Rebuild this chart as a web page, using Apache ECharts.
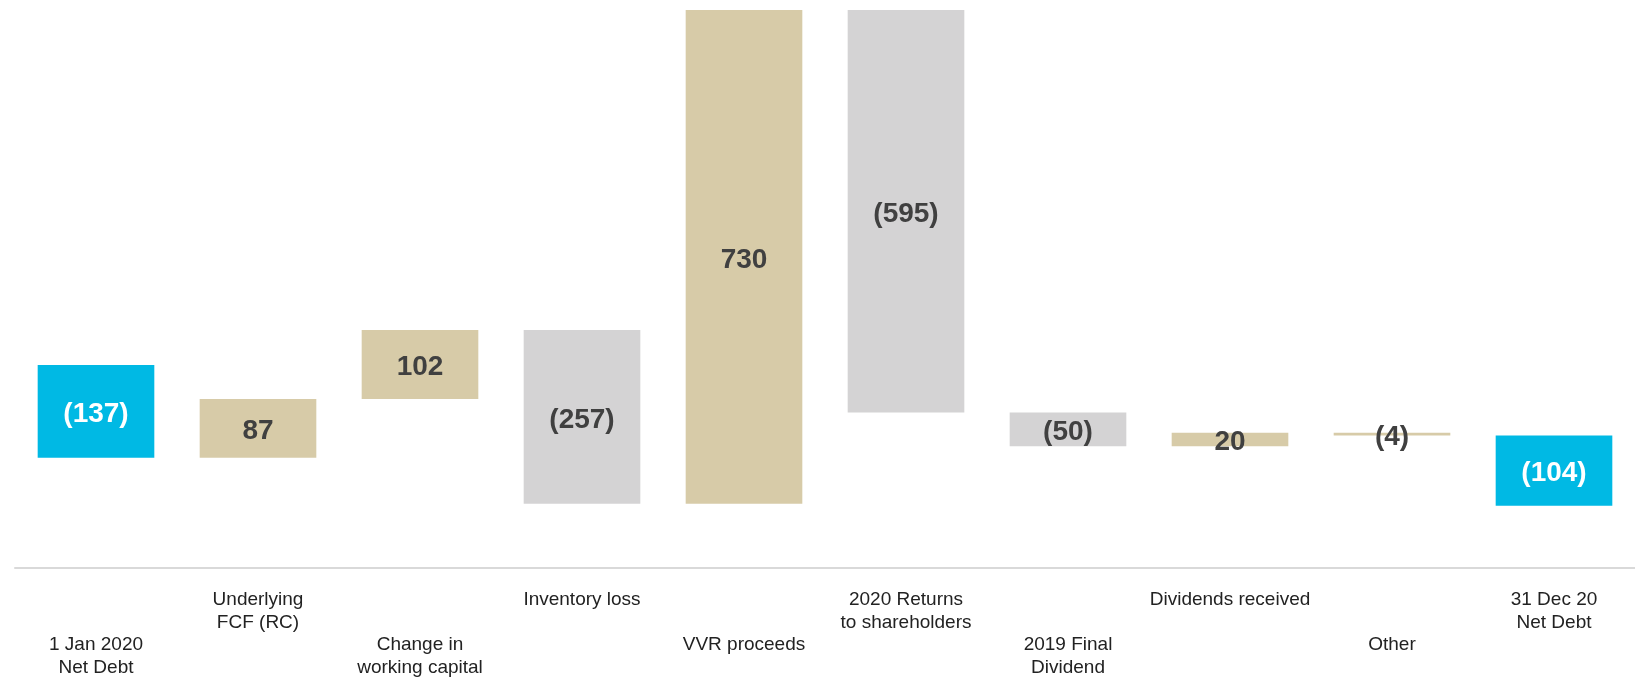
<!DOCTYPE html>
<html>
<head>
<meta charset="utf-8">
<script src="https://cdn.jsdelivr.net/npm/echarts@6/dist/echarts.min.js"></script>
<style>
  html, body { margin: 0; padding: 0; background: #ffffff; }
  #chart { width: 1635px; height: 679px; }
</style>
</head>
<body>
<div id="chart"></div>
<script>
// Net debt bridge, 1 Jan 2020 to 31 Dec 2020 (negative = net debt / outflow)
const categories = [
  '1 Jan 2020\nNet Debt',
  'Underlying\nFCF (RC)',
  'Change in\nworking capital',
  'Inventory loss',
  'VVR proceeds',
  '2020 Returns\nto shareholders',
  '2019 Final\nDividend',
  'Dividends received',
  'Other',
  '31 Dec 20\nNet Debt'
];
// Labels sit on two alternating rows below the axis (0 = upper, 1 = lower)
const labelRows = [1, 0, 1, 0, 1, 0, 1, 0, 1, 0];

const openingNetDebt = -137;
const movements = [87, 102, -257, 730, -595, -50, 20, -4];
const closingNetDebt = -104;

// Fill group per bar: totals, tan items and grey items
const barGroups = ['total', 'tan', 'tan', 'grey', 'tan', 'grey', 'grey', 'tan', 'tan', 'total'];
const COLORS = { total: '#00B9E4', tan: '#D7CBA8', grey: '#D4D3D4' };

function fmt(v) { return v < 0 ? '(' + Math.abs(v) + ')' : String(v); }

// Build floating bars: [low, high] per category
const ranges = [];
const valueLabels = [];
ranges.push([openingNetDebt, 0]);
valueLabels.push(fmt(openingNetDebt));
let running = openingNetDebt;
movements.forEach(m => {
  const next = running + m;
  ranges.push([Math.min(running, next), Math.max(running, next)]);
  valueLabels.push(fmt(m));
  running = next;
});
ranges.push([running + closingNetDebt, running]);
valueLabels.push(fmt(closingNetDebt));

const baseData = ranges.map(r => r[0]);
const spanData = ranges.map((r, i) => ({
  value: r[1] - r[0],
  itemStyle: { color: COLORS[barGroups[i]] },
  label: { color: barGroups[i] === 'total' ? '#ffffff' : '#404040' }
}));

const chart = echarts.init(document.getElementById('chart'), null, { renderer: 'canvas' });
chart.setOption({
  backgroundColor: '#ffffff',
  animation: false,
  grid: { left: 15, right: 0, top: 6.7, bottom: 109.6 },
  xAxis: {
    type: 'category',
    data: categories,
    axisLine: { onZero: false, lineStyle: { color: '#d9d9d9', width: 2 } },
    axisTick: { show: false },
    axisLabel: {
      interval: 0,
      margin: 21,
      fontFamily: 'Liberation Sans, Arial, sans-serif',
      fontSize: 19,
      lineHeight: 22.5,
      color: '#222222',
      formatter: (v, i) => (labelRows[i] ? '\n\n' : '') + v
    }
  },
  yAxis: {
    type: 'value',
    min: -300,
    max: 530,
    show: false,
    splitLine: { show: false }
  },
  series: [
    {
      type: 'bar',
      stack: 'bridge',
      stackStrategy: 'all',
      barWidth: '72%',
      silent: true,
      itemStyle: { color: 'transparent' },
      data: baseData
    },
    {
      type: 'bar',
      stack: 'bridge',
      stackStrategy: 'all',
      barWidth: '72%',
      data: spanData,
      label: {
        show: true,
        position: 'inside',
        offset: [0, 3],
        fontFamily: 'Liberation Sans, Arial, sans-serif',
        fontWeight: 'bold',
        fontSize: 28,
        formatter: p => valueLabels[p.dataIndex]
      }
    }
  ]
});
</script>
</body>
</html>
